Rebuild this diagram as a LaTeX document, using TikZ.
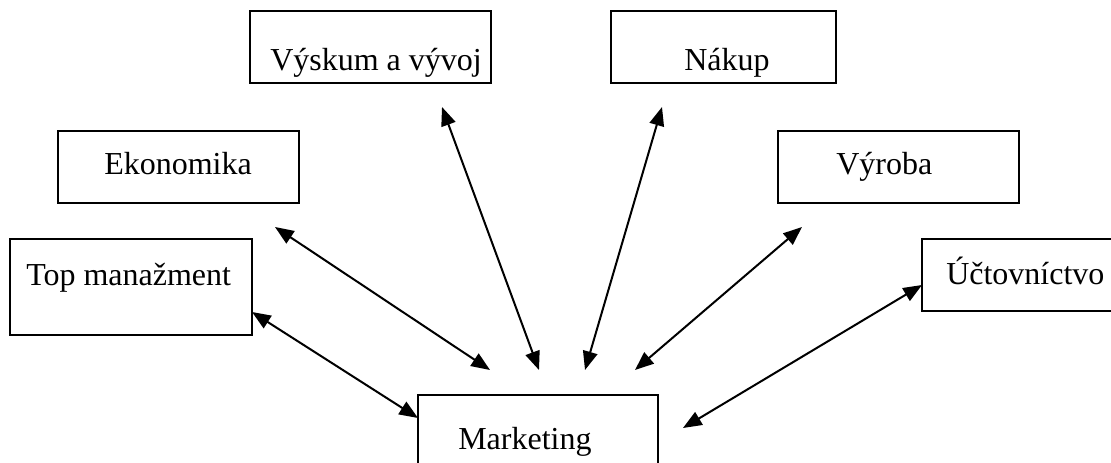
\documentclass[tikz,border=0pt]{standalone}
\usepackage{fontspec}
\setmainfont{Liberation Serif}
\usetikzlibrary{arrows.meta}
\begin{document}
\begin{tikzpicture}[x=0.75pt,y=-0.75pt,
  box/.style={draw, line width=1.6pt, rectangle, inner sep=0pt, outer sep=0pt},
  lbl/.style={inner sep=0pt, anchor=base west, font=\fontsize{24pt}{28pt}\selectfont},
  link/.style={line width=1.5pt, {Triangle[length=14pt,width=11pt]}-{Triangle[length=14pt,width=11pt]}}]
\useasboundingbox (0,0) rectangle (1111,463);
\clip (0,0) rectangle (1111,463);
% boxes
\node[box, minimum width=180.75pt, minimum height=54pt] (vyskum) at (370.5,47) {};
\node[box, minimum width=168.75pt, minimum height=54pt] (nakup) at (723.5,47) {};
\node[box, minimum width=180.75pt, minimum height=54pt] (eko) at (178.5,167) {};
\node[box, minimum width=180.75pt, minimum height=54pt] (vyroba) at (898.5,167) {};
\node[box, minimum width=181.5pt, minimum height=72pt] (top) at (131,287) {};
\node[box, minimum width=152.25pt, minimum height=54pt] (uct) at (1023.5,275) {};
\node[box, minimum width=180pt, minimum height=63.75pt] (mkt) at (538,437.5) {};
% texts
\node[lbl] (tvyskum) at (270,71) {Výskum a vývoj};
\node[lbl] (tnakup) at (684,71) {Nákup};
\node[lbl] (teko) at (104,175) {Ekonomika};
\node[lbl] (tvyroba) at (836,175) {Výroba};
\node[lbl] (ttop) at (26,286) {Top manažment};
\node[lbl] (tuct) at (946,285) {Účtovníctvo};
\node[lbl] (tmkt) at (458,450) {Marketing};
% connector ends
\coordinate (a1) at (252,312); \coordinate (b1) at (418,418);
\coordinate (a2) at (275,227); \coordinate (b2) at (490,370);
\coordinate (a3) at (442,107); \coordinate (b3) at (539,370);
\coordinate (a4) at (662,107); \coordinate (b4) at (585,370);
\coordinate (a5) at (802,227); \coordinate (b5) at (635,370);
\coordinate (a6) at (922,285); \coordinate (b6) at (683,428);
\draw[link] (a1) -- (b1);
\draw[link] (a2) -- (b2);
\draw[link] (a3) -- (b3);
\draw[link] (a4) -- (b4);
\draw[link] (a5) -- (b5);
\draw[link] (a6) -- (b6);
\end{tikzpicture}
\end{document}
